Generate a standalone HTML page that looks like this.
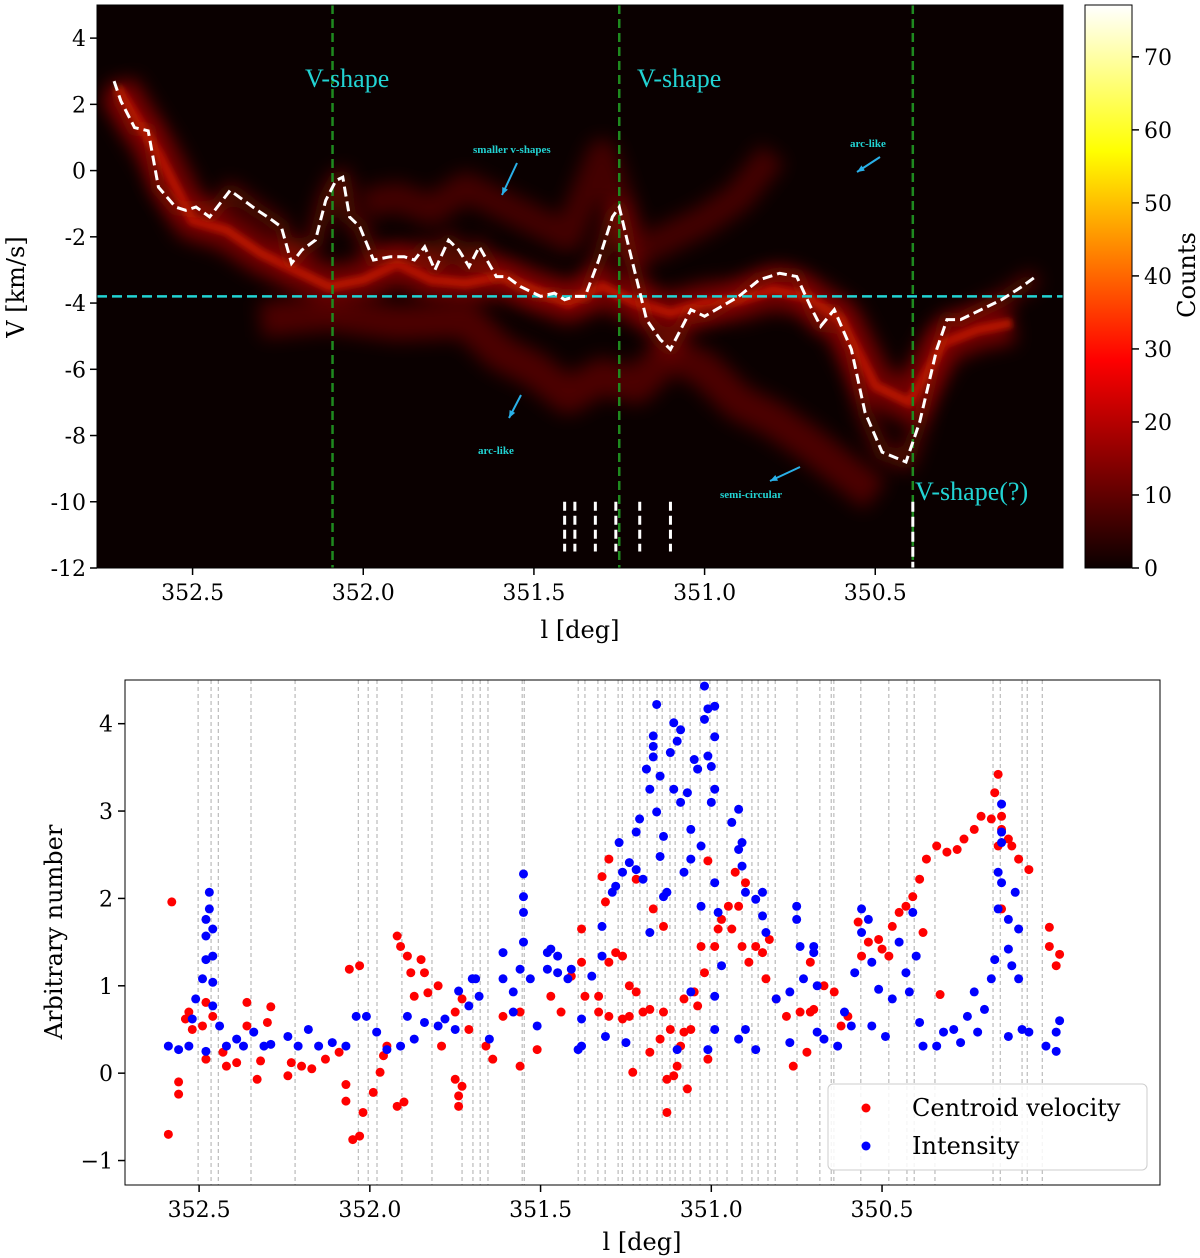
<!DOCTYPE html>
<html><head><meta charset="utf-8"><style>
body{margin:0;background:#fff}
svg{display:block;font-family:"DejaVu Serif","Liberation Serif",serif}
</style></head><body>
<svg id="fig" width="1200" height="1258" viewBox="0 0 1200 1258">
<defs>
<linearGradient id="hot" x1="0" y1="1" x2="0" y2="0">
<stop offset="0" stop-color="#0b0000"/><stop offset="0.37" stop-color="#ff0000"/><stop offset="0.74" stop-color="#ffff00"/><stop offset="1" stop-color="#ffffff"/>
</linearGradient>
<filter id="blur" x="-20%" y="-50%" width="140%" height="200%"><feGaussianBlur stdDeviation="9"/></filter>
<filter id="blur2" x="-20%" y="-50%" width="140%" height="200%"><feGaussianBlur stdDeviation="3"/></filter>
<clipPath id="topclip"><rect x="97" y="5" width="966" height="563"/></clipPath>
<clipPath id="botclip"><rect x="125" y="680" width="1035" height="505"/></clipPath>
</defs>
<g id="topPanel"></g>
<g id="cbar"></g>
<g id="botPanel"></g>
</svg>
<script>
// ---------- data: top panel ----------
const centroidL=[352.73,352.71,352.67,352.63,352.60,352.55,352.52,352.49,352.45,352.39,352.35,352.31,352.28,352.24,352.21,352.18,352.14,352.11,352.08,352.06,352.04,352.01,351.97,351.92,351.88,351.85,351.82,351.79,351.75,351.72,351.69,351.66,351.61,351.58,351.54,351.48,351.44,351.41,351.38,351.35,351.31,351.27,351.25,351.22,351.17,351.13,351.10,351.07,351.04,351.00,350.95,350.90,350.84,350.78,350.73,350.69,350.66,350.62,350.57,350.53,350.48,350.41,350.37,350.32,350.29,350.25,350.19,350.13,350.07,350.03];
const centroidV=[2.7,2.1,1.3,1.2,-0.5,-1.1,-1.2,-1.1,-1.4,-0.6,-0.9,-1.2,-1.4,-1.7,-2.8,-2.4,-2.1,-0.9,-0.3,-0.2,-1.4,-1.7,-2.7,-2.6,-2.6,-2.7,-2.3,-3.0,-2.1,-2.4,-2.9,-2.3,-3.2,-3.2,-3.5,-3.8,-3.7,-3.9,-3.8,-3.8,-2.7,-1.4,-1.1,-2.4,-4.5,-5.1,-5.4,-4.8,-4.2,-4.4,-4.1,-3.8,-3.3,-3.1,-3.2,-4.1,-4.7,-4.2,-5.4,-7.3,-8.5,-8.8,-7.6,-5.4,-4.5,-4.5,-4.2,-3.9,-3.5,-3.2];
const ridge1L=[352.72,352.6,352.5,352.4,352.3,352.2,352.1,352.0,351.9,351.8,351.7,351.6,351.5,351.4,351.3,351.2,351.1,351.0,350.9,350.8,350.7,350.6,350.5,350.4,350.3,350.2,350.1];
const ridge1V=[2.5,0.5,-1.5,-1.8,-2.5,-3.0,-3.5,-3.3,-2.8,-3.3,-3.4,-3.2,-3.6,-4.0,-3.5,-4.0,-4.3,-4.0,-3.9,-3.6,-3.8,-4.5,-6.5,-7.0,-5.2,-4.8,-4.6];
const ridge2L=[352.3,352.1,351.9,351.7,351.6,351.5,351.4,351.3,351.2,351.1,351.0,350.9,350.8,350.7,350.6,350.5];
const ridge2V=[-4.5,-4.3,-4.6,-4.5,-5.5,-6.0,-6.8,-6.2,-6.5,-5.5,-6.0,-7.0,-7.5,-8.2,-9.0,-9.8];
const ridge3L=[352.0,351.9,351.8,351.7,351.6,351.5,351.4,351.3,351.2,351.0,350.9,350.8];
const ridge3V=[-1.0,-0.8,-1.2,-0.5,-1.0,-1.5,-2.0,0.5,-2.5,-1.5,-0.8,0.5];
const greenL=[352.09,351.25,350.39];
const cyanV=-3.8;
const shortDashL=[351.41,351.38,351.32,351.26,351.19,351.10];
const topXTicks=[352.5,352.0,351.5,351.0,350.5];
const topXTickLabels=["352.5","352.0","351.5","351.0","350.5"];
const topYTicks=[4,2,0,-2,-4,-6,-8,-10,-12];
const cbTicks=[0,10,20,30,40,50,60,70];
// ---------- data: bottom panel ----------
const blueL=[352.59,352.56,352.53,352.52,352.51,352.49,352.48,352.48,352.48,352.47,352.47,352.46,352.46,352.46,352.46,352.48,352.44,352.42,352.39,352.37,352.34,352.31,352.29,352.24,352.21,352.18,352.15,352.11,352.07,352.04,352.01,351.98,351.95,351.91,351.89,351.87,351.84,351.80,351.78,351.75,351.74,351.71,351.70,
351.69,351.68,351.65,351.61,351.61,351.58,351.56,351.55,351.55,351.55,351.55,351.53,351.51,351.48,351.47,351.45,351.42,351.39,351.38,351.35,351.32,351.31,351.29,351.27,351.26,351.24,351.22,351.21,351.20,351.19,351.18,351.17,351.17,351.17,351.16,351.15,351.16,351.15,351.14,351.13,351.12,351.11,351.11,351.10,351.09,351.09,351.08,351.07,351.06,351.06,351.05,351.04,351.03,351.02,351.02,351.01,351.01,351.00,350.99,350.99,350.99,350.99,351.0,350.98,351.01,350.99,350.94,350.92,350.92,350.91,350.91,350.90,350.87,350.85,350.85,350.84,350.90,350.92,350.87,350.81,350.77,350.75,350.75,350.74,350.70,350.69,350.73,350.77,351.32,351.28,351.25,351.22,351.18,351.14,351.10,351.06,351.03,350.97,350.99,351.45,351.41,351.38,351.48,351.58,
350.70,350.69,350.67,350.63,350.61,350.58,350.56,350.56,350.54,350.53,350.53,350.51,350.49,350.47,350.45,350.43,350.42,350.41,350.40,350.39,350.38,350.34,350.32,350.29,350.27,350.25,350.23,350.22,350.20,350.18,350.17,350.16,350.16,350.15,350.15,350.15,350.15,350.13,350.13,350.12,350.11,350.10,350.10,350.13,350.09,350.07,350.02,349.99,349.98,349.99,350.59];
const blueV=[0.31,0.27,0.31,0.62,0.85,1.08,1.3,1.57,1.76,2.07,1.88,1.65,1.34,1.04,0.77,0.25,0.54,0.31,0.39,0.31,0.47,0.31,0.33,0.42,0.31,0.5,0.31,0.35,0.31,0.65,0.65,0.47,0.27,0.31,0.65,0.39,0.58,0.54,0.62,0.5,0.94,0.77,1.08,
1.08,0.88,0.39,1.38,1.08,0.93,1.19,1.5,2.02,2.28,1.84,1.08,0.54,1.19,1.42,1.15,1.08,0.27,0.62,1.11,1.34,0.42,2.07,2.64,2.30,2.41,2.76,2.91,2.22,3.48,3.25,3.86,3.74,3.62,4.22,3.40,2.99,2.48,2.71,2.07,3.67,4.01,3.25,3.80,3.1,3.93,2.30,3.21,2.79,2.45,3.59,3.48,2.6,4.05,4.43,3.63,4.17,3.51,2.18,4.2,3.85,3.25,3.1,1.84,0.27,0.88,2.87,2.56,3.02,2.64,2.37,2.07,1.99,2.07,1.8,1.61,0.5,0.39,0.27,0.85,0.35,1.91,1.76,1.45,1.38,1.0,1.08,0.93,1.68,2.14,0.35,2.33,1.61,2.02,0.27,0.93,1.91,1.23,0.5,1.34,1.19,0.31,1.38,0.7,
1.45,0.47,0.39,0.31,0.7,1.15,1.88,1.61,1.76,1.27,0.54,0.96,0.42,0.85,1.5,1.15,0.93,1.84,1.34,0.58,0.31,0.31,0.47,0.5,0.35,0.65,0.93,0.47,0.73,1.08,1.3,1.88,2.3,2.18,2.64,3.08,2.76,1.76,1.42,1.23,2.07,1.65,1.08,0.42,0.5,0.47,0.31,0.25,0.6,0.47,0.54];
const redL=[352.58,352.59,352.56,352.56,352.54,352.53,352.52,352.49,352.48,352.48,352.46,352.43,352.42,352.39,352.36,352.36,352.33,352.32,352.30,352.29,352.24,352.23,352.20,352.17,352.13,352.09,352.07,352.07,352.06,352.03,352.05,352.03,352.02,351.99,351.97,351.96,351.95,351.92,351.91,351.89,351.88,351.87,351.85,351.84,351.83,351.92,351.90,351.80,351.79,351.75,351.74,351.74,351.73,351.75,351.73,
351.71,351.66,351.64,351.61,351.56,351.56,351.51,351.47,351.44,351.41,351.38,351.37,351.33,351.32,351.31,351.30,351.30,351.30,351.28,351.26,351.26,351.24,351.23,351.22,351.22,351.20,351.18,351.18,351.17,351.15,351.14,351.13,351.13,351.12,351.11,351.10,351.09,351.08,351.07,351.06,351.05,351.04,351.03,351.02,351.01,351.01,350.99,350.98,350.97,350.95,350.94,350.93,350.92,350.90,350.91,350.89,350.87,350.85,350.83,350.84,350.81,350.78,350.76,350.72,350.70,350.71,350.74,351.38,351.33,351.24,351.14,351.08,
350.71,350.67,350.64,350.62,350.60,350.57,350.56,350.54,350.51,350.50,350.48,350.47,350.45,350.43,350.41,350.39,350.38,350.37,350.34,350.31,350.28,350.26,350.23,350.21,350.18,350.17,350.16,350.15,350.15,350.13,350.12,350.10,350.07,350.33,350.15,350.01,350.01,349.98,349.99,350.16];
const redV=[1.96,-0.70,-0.24,-0.1,0.62,0.7,0.5,0.54,0.81,0.16,0.65,0.24,0.08,0.12,0.81,0.54,-0.07,0.14,0.58,0.76,-0.03,0.12,0.08,0.05,0.16,0.24,-0.13,-0.32,1.19,1.23,-0.76,-0.72,-0.45,-0.22,0.01,0.2,0.31,1.57,1.45,1.34,1.15,0.88,1.30,1.15,0.92,-0.38,-0.33,1.0,0.31,-0.07,-0.26,-0.38,-0.15,0.7,0.85,
0.5,0.31,0.16,0.65,0.08,0.7,0.27,0.88,0.7,1.11,1.65,0.88,0.88,2.25,1.96,2.45,1.27,0.65,1.38,1.34,0.62,0.65,0.01,0.93,2.22,0.7,0.73,0.24,1.88,0.39,1.68,-0.07,-0.45,0.5,-0.03,0.08,0.31,0.47,-0.18,0.5,0.93,0.77,1.45,1.15,0.16,2.43,1.45,1.65,1.76,1.91,1.65,2.3,1.91,2.18,1.45,1.27,1.45,1.38,1.53,1.08,0.85,0.65,0.08,0.24,0.73,1.27,0.7,1.27,0.7,1.0,0.7,0.85,
0.7,1.0,0.93,0.54,0.65,1.73,1.34,1.5,1.53,1.42,1.34,1.68,1.84,1.91,2.02,2.22,1.61,2.45,2.6,2.53,2.56,2.68,2.79,2.94,2.91,3.21,3.42,2.94,2.79,2.68,2.6,2.45,2.33,0.9,1.88,1.67,1.45,1.36,1.23,2.6];
const gridL=[352.503,352.465,352.444,352.348,352.219,352.034,352.005,351.979,351.906,351.818,351.730,351.698,351.677,351.654,351.554,351.548,351.390,351.370,351.332,351.311,351.273,351.261,351.229,351.209,351.188,351.159,351.144,351.121,351.106,351.083,351.062,351.033,351.004,350.983,350.954,350.910,350.881,350.863,350.834,350.813,350.749,350.682,350.649,350.641,350.562,350.480,350.427,350.406,350.345,350.175,350.154,350.090,350.075,350.031];
const botXTicks=[352.5,352.0,351.5,351.0,350.5];
const botXTickLabels=["352.5","352.0","351.5","351.0","350.5"];
const botYTicks=[4,3,2,1,0,-1];

// ---------- helpers ----------
const NS="http://www.w3.org/2000/svg";
function mk(tag,attrs,parent,txt){const el=document.createElementNS(NS,tag);for(const k in attrs)el.setAttribute(k,attrs[k]);if(txt!==undefined)el.textContent=txt;parent.appendChild(el);return el;}
const tx=l=>97+(352.78-l)/(352.78-349.95)*966;
const ty=v=>5+(5-v)/17*563;
const bx=l=>125+(352.717-l)/(352.717-349.686)*1035;
const by=v=>680+(4.5-v)/(4.5+1.28)*505;
const cy=c=>568-c/77.1*563;

// ---------- top panel ----------
const topG=document.getElementById('topPanel');
let e;
e=mk('rect',{x:97,y:5,width:966,height:563,fill:'#0a0000'},topG);

const hg=mk('g',{'clip-path':'url(#topclip)'},topG);
function ridge(L,V,w,col,op,f){const pts=L.map((l,i)=>tx(l)+','+ty(V[i])).join(' ');return mk('polyline',{points:pts,fill:'none',stroke:col,'stroke-width':w,'stroke-opacity':op,filter:f,'stroke-linejoin':'round'},hg);}
e=ridge(ridge1L,ridge1V,40,'#8a0800',0.8,'url(#blur)');
e=ridge(ridge2L,ridge2V,36,'#6a0500',0.7,'url(#blur)');
e=ridge(ridge3L,ridge3V,30,'#6a0500',0.6,'url(#blur)');
e=ridge(ridge1L,ridge1V,10,'#d02000',0.7,'url(#blur2)');
e=ridge(centroidL,centroidV,16,'#a01000',0.5,'url(#blur)');
greenL.forEach(l=>{const g=mk('line',{x1:tx(l),x2:tx(l),y1:5,y2:568,stroke:'#1f8a1f','stroke-width':2.5,'stroke-dasharray':'9,5'},topG);
});
e=mk('line',{x1:97,x2:1063,y1:ty(cyanV),y2:ty(cyanV),stroke:'#22d3d3','stroke-width':2.5,'stroke-dasharray':'10,5'},topG);

e=mk('polyline',{points:centroidL.map((l,i)=>tx(l)+','+ty(centroidV[i])).join(' '),fill:'none',stroke:'#fff','stroke-width':3,'stroke-dasharray':'10,5'},topG);

e=mk('line',{x1:tx(350.39),x2:tx(350.39),y1:ty(-10),y2:568,stroke:'#fff','stroke-width':3,'stroke-dasharray':'10,5'},topG);

shortDashL.forEach(l=>{const s=mk('line',{x1:tx(l),x2:tx(l),y1:ty(-10),y2:ty(-11.5),stroke:'#fff','stroke-width':3,'stroke-dasharray':'9,5'},topG);
});
const ann=[[305,87,26,'V-shape','normal'],[637,87,26,'V-shape','normal'],[915,500,26,'V-shape(?)','normal'],[473,153,11,'smaller v-shapes','bold'],[850,147,11,'arc-like','bold'],[478,454,11,'arc-like','bold'],[720,498,11,'semi-circular','bold']];
ann.forEach(a=>{const t=mk('text',{x:a[0],y:a[1],'font-size':a[2],fill:'#22d3d3','font-weight':a[4],'font-family':'"Liberation Serif",serif'},topG,a[3]);
});
const arrows=[[517,163,502,195],[880,157,857,172],[521,395,509,418],[800,467,770,481]];
arrows.forEach(a=>{const g=mk('g',{},topG);
mk('line',{x1:a[0],y1:a[1],x2:a[2],y2:a[3],stroke:'#2ab0e8','stroke-width':2},g);
const ang=Math.atan2(a[3]-a[1],a[2]-a[0]);const s=8;
mk('polygon',{points:`${a[2]},${a[3]} ${a[2]-s*Math.cos(ang-0.4)},${a[3]-s*Math.sin(ang-0.4)} ${a[2]-s*Math.cos(ang+0.4)},${a[3]-s*Math.sin(ang+0.4)}`,fill:'#2ab0e8'},g);});
e=mk('rect',{x:97,y:5,width:966,height:563,fill:'none',stroke:'#000','stroke-width':1},topG);

topXTicks.forEach((l,i)=>{mk('line',{x1:tx(l),x2:tx(l),y1:568,y2:575,stroke:'#000','stroke-width':1.5},topG);
const t=mk('text',{x:tx(l),y:600,'font-size':22,'text-anchor':'middle'},topG,topXTickLabels[i]);});
topYTicks.forEach(v=>{mk('line',{x1:90,x2:97,y1:ty(v),y2:ty(v),stroke:'#000','stroke-width':1.5},topG);
const t=mk('text',{x:86,y:ty(v)+8,'font-size':22,'text-anchor':'end'},topG,String(v));});
e=mk('text',{x:580,y:638,'font-size':24,'text-anchor':'middle'},topG,'l [deg]');
e=mk('text',{x:0,y:0,'font-size':24,'text-anchor':'middle',transform:'translate(24,287) rotate(-90)'},topG,'V [km/s]');

// ---------- colorbar ----------
const cb=document.getElementById('cbar');
e=mk('rect',{x:1085,y:5,width:47,height:563,fill:'url(#hot)',stroke:'#000','stroke-width':1},cb);

cbTicks.forEach(c=>{mk('line',{x1:1132,x2:1139,y1:cy(c),y2:cy(c),stroke:'#000','stroke-width':1.5},cb);
const t=mk('text',{x:1144,y:cy(c)+8,'font-size':22},cb,String(c));});
e=mk('text',{x:0,y:0,'font-size':24,'text-anchor':'middle',transform:'translate(1195,275) rotate(-90)'},cb,'Counts');


// ---------- bottom panel ----------
const botG=document.getElementById('botPanel');
const bg=mk('g',{'clip-path':'url(#botclip)'},botG);
gridL.forEach(l=>{const g=mk('line',{x1:bx(l),x2:bx(l),y1:680,y2:1185,stroke:'#999','stroke-width':0.8,'stroke-dasharray':'4,3'},bg);
});
redL.forEach((l,i)=>{const c=mk('circle',{cx:bx(l),cy:by(redV[i]),r:4.5,fill:'#f00'},bg);
});
blueL.forEach((l,i)=>{const c=mk('circle',{cx:bx(l),cy:by(blueV[i]),r:4.5,fill:'#00f'},bg);
});
e=mk('rect',{x:125,y:680,width:1035,height:505,fill:'none',stroke:'#000','stroke-width':1},botG);

botXTicks.forEach((l,i)=>{mk('line',{x1:bx(l),x2:bx(l),y1:1185,y2:1192,stroke:'#000','stroke-width':1.5},botG);
const t=mk('text',{x:bx(l),y:1217,'font-size':22,'text-anchor':'middle'},botG,botXTickLabels[i]);});
botYTicks.forEach(v=>{mk('line',{x1:118,x2:125,y1:by(v),y2:by(v),stroke:'#000','stroke-width':1.5},botG);
const t=mk('text',{x:113,y:by(v)+8,'font-size':22,'text-anchor':'end'},botG,v<0?'\u2212'+Math.abs(v):String(v));});
e=mk('text',{x:642,y:1250,'font-size':24,'text-anchor':'middle'},botG,'l [deg]');
e=mk('text',{x:0,y:0,'font-size':24,'text-anchor':'middle',transform:'translate(62,932) rotate(-90)'},botG,'Arbitrary number');
const lg=mk('g',{},botG);
mk('rect',{x:828,y:1084,width:319,height:86,rx:5,fill:'#fff','fill-opacity':0.85,stroke:'#ccc'},lg);
e=mk('circle',{cx:866,cy:1108,r:4.5,fill:'#f00'},lg);
e=mk('text',{x:912,y:1116,'font-size':24},lg,'Centroid velocity');
e=mk('circle',{cx:866,cy:1146,r:4.5,fill:'#00f'},lg);
e=mk('text',{x:912,y:1154,'font-size':24},lg,'Intensity');
</script>
</body></html>
